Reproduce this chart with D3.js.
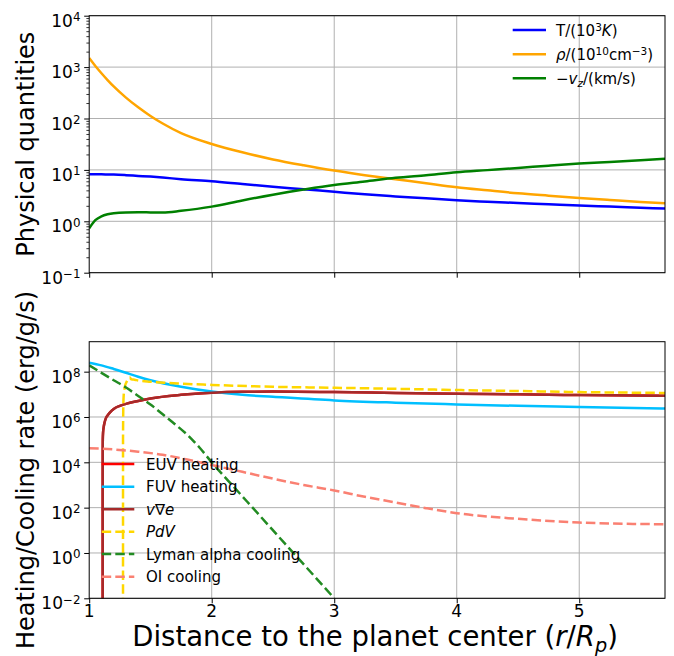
<!DOCTYPE html>
<html>
<head>
<meta charset="utf-8">
<script src="https://cdn.jsdelivr.net/npm/d3@7"></script>
<style>
  body { margin: 0; background: #fff; }
  svg { display: block; }
  text { font-family: "DejaVu Sans", sans-serif; fill: #000; }
</style>
</head>
<body>
<svg id="chart" width="674" height="656"></svg>
<script>
// ---------- data: upper panel (physical quantities vs r/Rp) ----------
const rProfile = [1, 1.05, 1.1, 1.15, 1.2, 1.3, 1.4, 1.5, 1.6, 1.75, 2, 2.25, 2.5, 2.75,
                  3, 3.25, 3.5, 3.75, 4, 4.25, 4.5, 4.75, 5, 5.25, 5.5, 5.7];
const temperature = [8.2, 8.2, 8.2, 8.15, 8.1, 7.9, 7.65, 7.4, 7.1, 6.6, 6.0, 5.3, 4.7, 4.2,
                     3.75, 3.35, 3.05, 2.8, 2.56, 2.4, 2.27, 2.14, 2.02, 1.93, 1.84, 1.77];
const density = [1500, 1050, 760, 560, 420, 255, 165, 112, 80, 52, 32, 22, 16, 12.3,
                 9.7, 7.9, 6.6, 5.5, 4.6, 4.0, 3.5, 3.15, 2.85, 2.6, 2.38, 2.24];
const velocity = [0.73, 1.05, 1.25, 1.37, 1.44, 1.49, 1.5, 1.49, 1.48, 1.6, 1.93, 2.55, 3.3, 4.15,
                  5.1, 5.95, 7.0, 7.9, 9.0, 9.9, 10.9, 12.1, 13.3, 14.3, 15.4, 16.4];

// ---------- data: lower panel (heating / cooling rates) ----------
const rFuv = [1, 1.1, 1.2, 1.3, 1.4, 1.5, 1.75, 2, 2.25, 2.5, 3, 3.5, 4, 4.5, 5, 5.7];
const fuvHeating = [2.5e8, 1.9e8, 1.32e8, 8.9e7, 6.0e7, 4.2e7, 2.15e7, 1.32e7, 9.5e6, 7.8e6,
                    5.4e6, 4.3e6, 3.6e6, 3.1e6, 2.75e6, 2.35e6];

const rAdv = [1.11, 1.1101, 1.1105, 1.111, 1.113, 1.118, 1.125, 1.135, 1.15, 1.17, 1.2, 1.25,
              1.3, 1.4, 1.5, 1.75, 2, 2.25, 2.5, 3, 3.5, 4, 4.5, 5, 5.7];
const advection = [1e-3, 3e3, 4e4, 1e5, 2e5, 3.5e5, 5.6e5, 8.5e5, 1.17e6, 1.6e6, 2.25e6, 3.1e6,
                   3.8e6, 5.1e6, 6.6e6, 9.5e6, 1.17e7, 1.29e7, 1.32e7, 1.26e7, 1.15e7, 1.07e7,
                   1.0e7, 9.3e6, 8.7e6];
const euvHeating = [1e-3, 3e3, 4e4, 1e5, 2e5, 3.5e5, 5.6e5, 8.5e5, 1.17e6, 1.6e6, 2.25e6, 3.1e6,
                    3.8e6, 5.1e6, 6.6e6, 9.5e6, 1.17e7, 1.29e7, 1.32e7, 1.26e7, 1.15e7, 1.07e7,
                    1.0e7, 9.3e6, 8.7e6];

const rPdV = [1.276, 1.2761, 1.278, 1.281, 1.29, 1.31, 1.33, 1.345, 1.37, 1.4, 1.5, 1.75,
              2, 2.5, 3, 3.5, 4, 4.5, 5, 5.7];
const pdvWork = [1e-3, 1e5, 2e6, 8e6, 2e7, 4e7, 5.5e7, 4.6e7, 4.4e7, 4.1e7, 3.6e7, 2.95e7,
                 2.6e7, 2.15e7, 1.95e7, 1.75e7, 1.55e7, 1.4e7, 1.26e7, 1.15e7];

const rLya = [1, 1.1, 1.2, 1.3, 1.4, 1.5, 1.6, 1.7, 1.8, 1.9, 2, 2.2, 2.4, 2.6, 2.8, 3.0];
const lyaCooling = [1.9e8, 8.9e7, 4.2e7, 2.0e7, 8.5e6, 3.55e6, 1.32e6, 4.8e5, 1.66e5, 4.5e4,
                    1.0e4, 630, 40, 2.5, 0.16, 0.01];

const rOI = [1, 1.2, 1.4, 1.6, 1.8, 2, 2.25, 2.5, 2.75, 3, 3.25, 3.5, 3.75, 4, 4.5, 5, 5.5, 5.7];
const oiCooling = [4.2e4, 3.7e4, 2.95e4, 2.15e4, 1.32e4, 7.6e3, 3.8e3, 1.9e3, 1.0e3, 575, 300,
                   170, 95, 57, 32, 22, 19, 18.6];

// ---------- axis ticks ----------
const xTicks = [1, 2, 3, 4, 5];
const topExponents = [-1, 0, 1, 2, 3, 4];
const botExponents = [-2, 0, 2, 4, 6, 8];

// ---------- layout ----------
const svg = d3.select("#chart");
const plotLeft = 89.2, plotRight = 665;
const topBox = { top: 15.7, bottom: 272.7 };
const botBox = { top: 341.7, bottom: 598.3 };
const tickFs = 17, legendFs = 15;

const x = d3.scaleLinear().domain([1, 5.70]).range([plotLeft, plotRight]);
const yTop = d3.scaleLog().domain([1e-1, 1e4]).range([topBox.bottom, topBox.top]);
const yBot = d3.scaleLog().domain([1e-2, 2.1e9]).range([botBox.bottom, botBox.top]);

// rich text helper: parts = [{t, it, pos}] with pos in {undefined,'sup','sub'}
function rich(sel, parts, fs) {
  let shift = 0;
  parts.forEach(p => {
    const target = p.pos === "sup" ? -0.34 * fs : p.pos === "sub" ? 0.2 * fs : 0;
    sel.append("tspan")
      .attr("dy", target - shift)
      .attr("font-size", p.pos ? fs * 0.7 : fs)
      .attr("font-style", p.it ? "italic" : "normal")
      .text(p.t);
    shift = target;
  });
}
const minus = e => (e < 0 ? "\u2212" + Math.abs(e) : String(e));

function panel(box, y, exps, withMinor, clipId) {
  const g = svg.append("g");
  // grid
  g.append("g").selectAll("line").data(xTicks.slice(1)).join("line")
    .attr("x1", d => x(d)).attr("x2", d => x(d))
    .attr("y1", box.top).attr("y2", box.bottom)
    .attr("stroke", "#b0b0b0").attr("stroke-width", 1);
  g.append("g").selectAll("line").data(exps).join("line")
    .attr("x1", plotLeft).attr("x2", plotRight)
    .attr("y1", d => y(Math.pow(10, d))).attr("y2", d => y(Math.pow(10, d)))
    .attr("stroke", "#b0b0b0").attr("stroke-width", 1);

  svg.append("defs").append("clipPath").attr("id", clipId)
    .append("rect").attr("x", plotLeft).attr("y", box.top)
    .attr("width", plotRight - plotLeft).attr("height", box.bottom - box.top);

  // y axis ticks
  const yAxis = d3.axisLeft(y).tickValues(exps.map(e => Math.pow(10, e)))
    .tickSize(5).tickFormat("");
  const ya = g.append("g").attr("transform", `translate(${plotLeft},0)`).call(yAxis);
  ya.select(".domain").remove();
  ya.selectAll("line").attr("stroke", "#000").attr("stroke-width", 1);
  if (withMinor) {
    const minors = [];
    for (let e = exps[0]; e < exps[exps.length - 1]; e++)
      for (let k = 2; k <= 9; k++) minors.push(k * Math.pow(10, e));
    const ym = g.append("g").attr("transform", `translate(${plotLeft},0)`)
      .call(d3.axisLeft(y).tickValues(minors).tickSize(2.8).tickFormat(""));
    ym.select(".domain").remove();
    ym.selectAll("line").attr("stroke", "#000").attr("stroke-width", 0.8);
  }
  // y tick labels: 10^e
  exps.forEach(e => {
    const t = g.append("text").attr("x", 80.5).attr("y", y(Math.pow(10, e)) + 11)
      .attr("text-anchor", "end");
    rich(t, [{ t: "10" }, { t: minus(e), pos: "sup" }], tickFs);
  });
  // x ticks
  const xa = g.append("g").attr("transform", `translate(0,${box.bottom})`)
    .call(d3.axisBottom(x).tickValues(xTicks).tickSize(5).tickFormat(""));
  xa.select(".domain").remove();
  xa.selectAll("line").attr("stroke", "#000").attr("stroke-width", 1);
  return g;
}

function frame(box) {
  svg.append("rect").attr("x", plotLeft).attr("y", box.top)
    .attr("width", plotRight - plotLeft).attr("height", box.bottom - box.top)
    .attr("fill", "none").attr("stroke", "#000").attr("stroke-width", 1);
}

function drawSeries(xs, ys, y, color, dashed, clipId) {
  const pts = xs.map((r, i) => [r, ys[i]]);
  const line = d3.line().x(d => x(d[0])).y(d => y(d[1])).curve(d3.curveMonotoneX);
  svg.append("path").datum(pts)
    .attr("clip-path", `url(#${clipId})`)
    .attr("d", line)
    .attr("fill", "none")
    .attr("stroke", color)
    .attr("stroke-width", 2.5)
    .attr("stroke-dasharray", dashed ? "9.5,4.1" : null)
    .attr("stroke-linejoin", "round");
}

// ---------- upper panel ----------
panel(topBox, yTop, topExponents, true, "clipTop");
drawSeries(rProfile, temperature, yTop, "blue", false, "clipTop");
drawSeries(rProfile, density, yTop, "orange", false, "clipTop");
drawSeries(rProfile, velocity, yTop, "green", false, "clipTop");
frame(topBox);

// ---------- lower panel ----------
panel(botBox, yBot, botExponents, false, "clipBot");
drawSeries(rAdv, euvHeating, yBot, "red", false, "clipBot");
drawSeries(rFuv, fuvHeating, yBot, "deepskyblue", false, "clipBot");
drawSeries(rAdv, advection, yBot, "brown", false, "clipBot");
drawSeries(rPdV, pdvWork, yBot, "gold", true, "clipBot");
drawSeries(rLya, lyaCooling, yBot, "forestgreen", true, "clipBot");
drawSeries(rOI, oiCooling, yBot, "salmon", true, "clipBot");
frame(botBox);

// x tick labels on lower panel
svg.append("g").selectAll("text").data(xTicks).join("text")
  .attr("x", d => x(d)).attr("y", botBox.bottom + 19)
  .attr("text-anchor", "middle").attr("font-size", tickFs)
  .text(d => d);

// ---------- legends ----------
const topLegend = [
  { color: "blue", parts: [{ t: "T/(10" }, { t: "3", pos: "sup" }, { t: "K", it: true }, { t: ")" }] },
  { color: "orange", parts: [{ t: "\u03c1", it: true }, { t: "/(10" }, { t: "10", pos: "sup" },
                             { t: "cm" }, { t: "\u22123", pos: "sup" }, { t: ")" }] },
  { color: "green", parts: [{ t: "\u2212" }, { t: "v", it: true }, { t: "z", it: true, pos: "sub" },
                            { t: "/(km/s)" }] }
];
const topRows = [30, 54.3, 78.3];
topLegend.forEach((d, i) => {
  svg.append("line").attr("x1", 512.7).attr("x2", 546).attr("y1", topRows[i]).attr("y2", topRows[i])
    .attr("stroke", d.color).attr("stroke-width", 2.5);
  const t = svg.append("text").attr("x", 556).attr("y", topRows[i] + 6).attr("font-size", legendFs);
  rich(t, d.parts, legendFs);
});

const botLegend = [
  { color: "red", dashed: false, parts: [{ t: "EUV heating" }] },
  { color: "deepskyblue", dashed: false, parts: [{ t: "FUV heating" }] },
  { color: "brown", dashed: false, parts: [{ t: "v", it: true }, { t: "\u2207" }, { t: "e", it: true }] },
  { color: "gold", dashed: true, parts: [{ t: "PdV", it: true }] },
  { color: "forestgreen", dashed: true, parts: [{ t: "Lyman alpha cooling" }] },
  { color: "salmon", dashed: true, parts: [{ t: "OI cooling" }] }
];
const botRows = [464, 486.7, 509.3, 531.7, 554, 576.7];
botLegend.forEach((d, i) => {
  svg.append("line").attr("x1", 101.7).attr("x2", 134.3).attr("y1", botRows[i]).attr("y2", botRows[i])
    .attr("stroke", d.color).attr("stroke-width", 2.5)
    .attr("stroke-dasharray", d.dashed ? "9.5,4.1" : null);
  const t = svg.append("text").attr("x", 146).attr("y", botRows[i] + 5.5).attr("font-size", legendFs);
  rich(t, d.parts, legendFs);
});

// ---------- axis titles ----------
svg.append("text").attr("transform", `translate(34,${(topBox.top + topBox.bottom) / 2}) rotate(-90)`)
  .attr("text-anchor", "middle").attr("font-size", 24).text("Physical quantities");
svg.append("text").attr("transform", `translate(34,${(botBox.top + botBox.bottom) / 2}) rotate(-90)`)
  .attr("text-anchor", "middle").attr("font-size", 24).text("Heating/Cooling rate (erg/g/s)");
const xl = svg.append("text").attr("x", (plotLeft + plotRight) / 2 - 2).attr("y", 646)
  .attr("text-anchor", "middle").attr("font-size", 27.5);
rich(xl, [{ t: "Distance to the planet center (" }, { t: "r", it: true }, { t: "/" },
          { t: "R", it: true }, { t: "p", it: true, pos: "sub" }, { t: ")" }], 27.5);
</script>
</body>
</html>
